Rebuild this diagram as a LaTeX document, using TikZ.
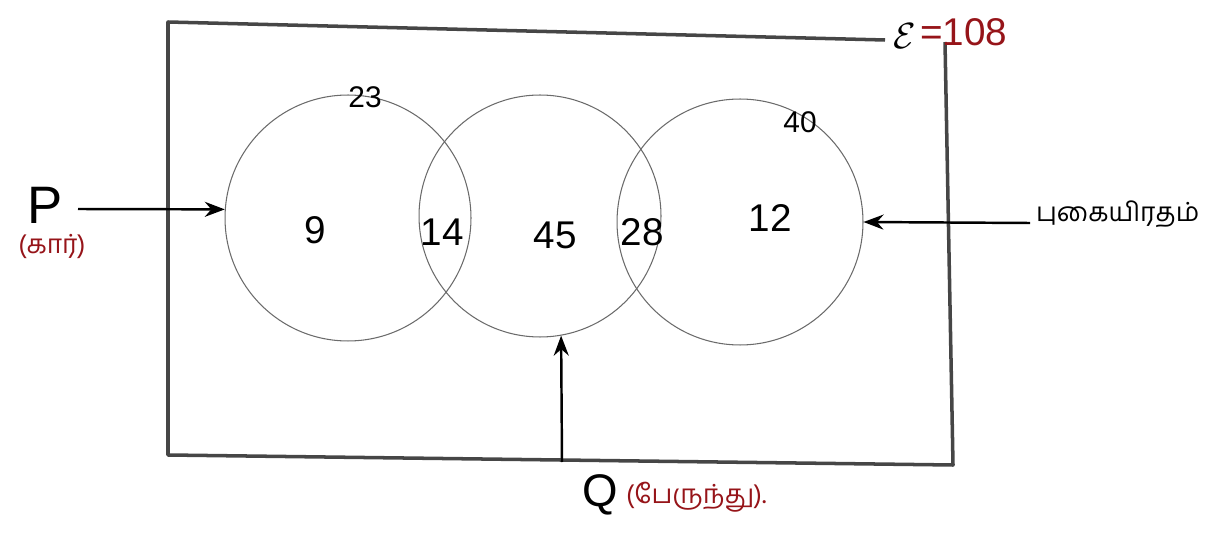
\documentclass[tikz,border=0pt]{standalone}
\usepackage{fontspec}
\setmainfont{Liberation Sans}
\newfontfamily\tamilfont[Script=Tamil]{Hind Madurai}
\usetikzlibrary{arrows.meta}
\definecolor{inkred}{RGB}{150,20,25}
\definecolor{pencil}{RGB}{70,70,70}
\tikzset{
  venn/.style={circle, draw=pencil!80, line width=0.6pt, minimum size=#1, inner sep=0pt},
  num/.style={font=\fontsize{22}{24}\selectfont, text=black},
  small/.style={font=\fontsize{17}{19}\selectfont, text=black},
  lbl/.style={font=\fontsize{30}{32}\selectfont, text=black},
  tam/.style={font=\tamilfont\fontsize{15}{17}\selectfont, text=inkred},
  pointer/.style={draw=black, line width=1.4pt, -{Stealth[length=4mm,width=3mm]}},
  frame/.style={draw=pencil, line width=2pt, line join=round}
}
\begin{document}
\begin{tikzpicture}[x=0.02cm, y=-0.02cm]
\useasboundingbox (0,0) rectangle (1216,540);
% universal set frame
\coordinate (f1) at (945,42);
\coordinate (f2) at (953,465);
\coordinate (f3) at (168,455);
\coordinate (f4) at (168,22);
\coordinate (f5) at (885,40);
\draw[frame] (f1) -- (f2) -- (f3) -- (f4) -- (f5);
\node[font=\fontsize{22}{24}\selectfont, inner sep=1pt] (xi) at (905,36) {$\mathcal{E}$};
\node[num, text=inkred, anchor=west, inner sep=0pt] (n108) at (920,32) {=108};
% circles
\node[venn=4.92cm] (A) at (348,218) {};
\node[venn=4.84cm] (B) at (540,216) {};
\node[venn=4.92cm] (C) at (740,222) {};
% region numbers
\node[num] (n9) at (315,230) {9};
\node[num] (n14) at (442,232) {14};
\node[num] (n45) at (555,235) {45};
\node[num] (n28) at (642,232) {28};
\node[num] (n12) at (770,218) {12};
\node[small] (n23) at (365,97) {23};
\node[small] (n40) at (800,122) {40};
% labels
\node[lbl] (P) at (45,205) {P};
\node[tam] (Pt) at (52,246) {(கார்)};
\node[tam, text=black, font=\tamilfont\fontsize{15}{17}\selectfont, anchor=west, inner sep=1pt] (R) at (1034,214) {புகையிரதம்};
\node[lbl, font=\fontsize{26}{28}\selectfont] (Q) at (600,495) {Q};
\node[tam, anchor=west] (Qt) at (620,497) {(பேருந்து).};
\coordinate (pstart) at (78,209);
\coordinate (rstart) at (1030,223);
\coordinate (qstart) at (562,462);
% pointers
\draw[pointer] (pstart) -- (A.176);
\draw[pointer] (rstart) -- (C.east);
\draw[pointer] (qstart) -- (B.-80);
\end{tikzpicture}
\end{document}
